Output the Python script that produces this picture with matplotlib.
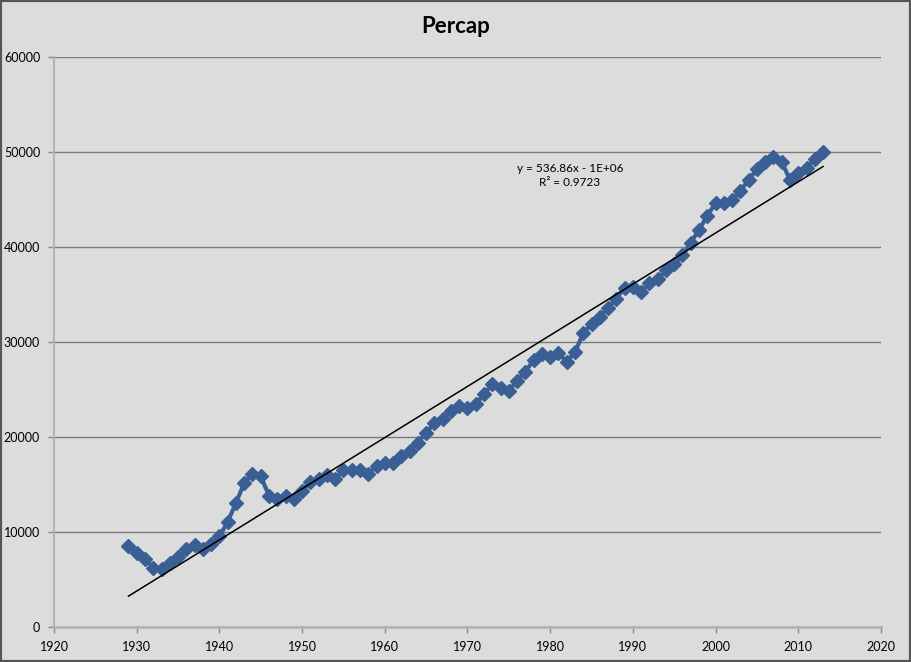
import matplotlib.pyplot as plt
import numpy as np

plt.rcParams['font.family'] = ['Lato', 'DejaVu Sans']

# years and per capita values
years = np.arange(1929, 2014)
percap = np.array([
    8560, 7820, 7160, 6240, 6100, 6770, 7340, 8210, 8600, 8250,   # 1929-1938
    8740, 9550, 11050, 13080, 15130, 16140, 15860, 13820, 13470, 13790,  # 1939-1948
    13440, 14350, 15260, 15550, 16030, 15610, 16490, 16490, 16490, 16100,  # 1949-1958
    16980, 17230, 17260, 18030, 18560, 19400, 20450, 21440, 21900, 22740,  # 1959-1968
    23230, 23020, 23440, 24500, 25550, 25190, 24870, 25930, 26870, 28100,  # 1969-1978
    28700, 28390, 28810, 27930, 28920, 30920, 31900, 32660, 33550, 34550,  # 1979-1988
    35720, 35820, 35300, 36180, 36600, 37580, 38180, 39160, 40450, 41790,  # 1989-1998
    43300, 44600, 44600, 44950, 45900, 47050, 48180, 48980, 49500, 48980,  # 1999-2008
    47050, 47820, 48350, 49230, 49960,                                      # 2009-2013
])

eq_text = "y = 536.86x - 1E+06\nR\u00b2 = 0.9723"

bg = '#dcdcdc'
fig = plt.figure(figsize=(9.11, 6.62), dpi=100, facecolor=bg)
ax = fig.add_axes([0.0593, 0.0529, 0.9077, 0.8611])
ax.set_facecolor(bg)

# horizontal gridlines like Excel
ax.yaxis.grid(True, color='#7a7a7a', linewidth=1.0)
ax.set_axisbelow(True)

ax.plot(years, percap, color='#3a5f94', linewidth=3, marker='D',
        markersize=7, markeredgecolor='#3a5f94')

# linear trendline
coef = np.polyfit(years, percap, 1)
ax.plot(years, np.polyval(coef, years), color='black', linewidth=1.1)

ax.text(1982.4, 47500, eq_text, ha='center', va='center', fontsize=8.5,
        linespacing=1.35)

ax.set_xlim(1920, 2020)
ax.set_ylim(0, 60000)
ax.set_xticks(np.arange(1920, 2021, 10))
ax.set_yticks(np.arange(0, 60001, 10000))
ax.tick_params(axis='both', labelsize=9, length=4, color='#888888', width=1)
ax.tick_params(axis='x', pad=6)
ax.tick_params(axis='y', pad=6)

for s in ['top', 'right']:
    ax.spines[s].set_visible(False)
ax.spines['left'].set_color('#b4b4b4')
ax.spines['left'].set_linewidth(1.5)
ax.spines['bottom'].set_color('#b4b4b4')
ax.spines['bottom'].set_linewidth(2)

fig.text(0.5, 0.96, 'Percap', ha='center', va='center', fontsize=16,
         fontweight='bold')

# dark frame around the whole image
fig.patches.append(plt.Rectangle((0, 0), 1, 1, transform=fig.transFigure,
                                 fill=False, edgecolor='#555555', linewidth=3))

fig.savefig('out.png', dpi=100, facecolor=bg)
